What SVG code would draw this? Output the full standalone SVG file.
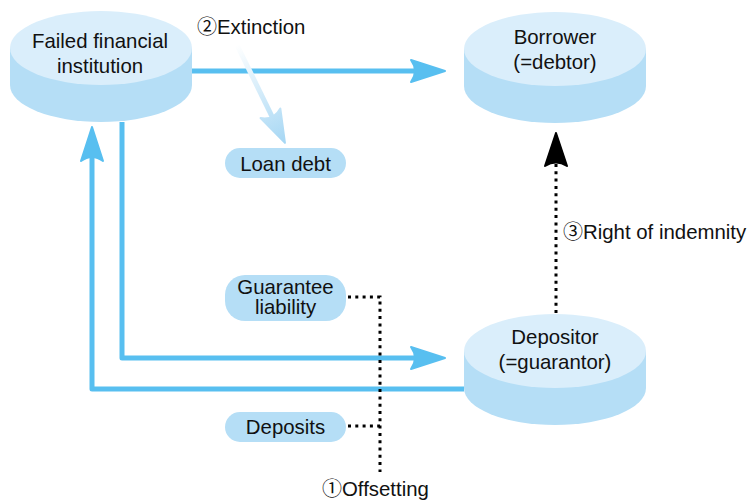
<svg xmlns="http://www.w3.org/2000/svg" width="753" height="503" viewBox="0 0 753 503">
<defs>
<style>
text{font-family:"Liberation Sans",Arial,"Noto Sans CJK JP",sans-serif;font-size:20.4px;fill:#111}
.c{text-anchor:middle}
.num{font-family:"Noto Sans CJK JP",sans-serif;font-size:20px}
.top{fill:#daeefb}
.side{fill:#b5def6}
.pill{fill:#b5def6}
.blue{fill:none;stroke:#58bff0;stroke-width:5;stroke-linejoin:round}
.dot{fill:none;stroke:#000;stroke-width:3;stroke-dasharray:3 4.3}
</style>
<marker id="ab" markerUnits="userSpaceOnUse" orient="auto" refX="0" refY="0" markerWidth="60" markerHeight="40" viewBox="-20 -20 60 40" overflow="visible">
<path d="M20,0 L-14,-11 Q-6,0 -14,11 Z" fill="#58bff0" stroke="#58bff0" stroke-width="2" stroke-linejoin="round"/>
</marker>
<marker id="ak" markerUnits="userSpaceOnUse" orient="auto" refX="0" refY="0" markerWidth="60" markerHeight="40" viewBox="-20 -20 60 40" overflow="visible">
<path d="M20,0 L-13,-11 Q-6,0 -13,11 Z" fill="#000" stroke="#000" stroke-width="2" stroke-linejoin="round"/>
</marker>
<linearGradient id="gx" gradientUnits="userSpaceOnUse" x1="0" y1="0" x2="109" y2="0">
<stop offset="0" stop-color="#ffffff"/>
<stop offset="1" stop-color="#a6d7f4"/>
</linearGradient>
</defs>
<rect width="753" height="503" fill="#fff"/>

<g id="connectors">
<path class="blue" d="M192,71 H425" marker-end="url(#ab)"/>
<path class="blue" d="M122,122 V358 H425" marker-end="url(#ab)"/>
<path class="blue" d="M464,389 H92 V147" marker-end="url(#ab)"/>
<path class="dot" d="M556,313 V153" marker-end="url(#ak)"/>
<path class="dot" d="M348,297 H380 V472"/>
<path class="dot" d="M348,426 H380"/>
<g transform="translate(237,45) rotate(63.9)">
<path d="M0,0 H85" stroke="url(#gx)" stroke-width="5" fill="none"/>
<path d="M109,0 L76,-11 Q84,0 76,11 Z" fill="url(#gx)" stroke="url(#gx)" stroke-width="2" stroke-linejoin="round"/>
</g>
</g>

<g id="failed">
<path class="side" d="M10,48 V85 A91,37 0 0 0 192,85 V48 Z"/>
<ellipse class="top" cx="101" cy="48" rx="91" ry="37"/>
<text class="c" x="100" y="48">Failed financial</text>
<text class="c" x="100" y="73">institution</text>
</g>

<g id="borrower">
<path class="side" d="M464,49 V86 A91,37 0 0 0 646,86 V49 Z"/>
<ellipse class="top" cx="555" cy="49" rx="91" ry="37"/>
<text class="c" x="555" y="44">Borrower</text>
<text class="c" x="555" y="69">(=debtor)</text>
</g>

<g id="depositor">
<path class="side" d="M464,351 V388 A91,37 0 0 0 646,388 V351 Z"/>
<ellipse class="top" cx="555" cy="351" rx="91" ry="37"/>
<text class="c" x="555" y="344">Depositor</text>
<text class="c" x="555" y="369">(=guarantor)</text>
</g>

<g id="loan-debt">
<rect class="pill" x="225" y="148" width="121" height="30" rx="15"/>
<text class="c" x="285.5" y="171">Loan debt</text>
</g>

<g id="guarantee">
<rect class="pill" x="225" y="275" width="121" height="46" rx="20"/>
<text class="c" x="285.5" y="294">Guarantee</text>
<text class="c" x="285.5" y="314">liability</text>
</g>

<g id="deposits">
<rect class="pill" x="225" y="412" width="121" height="30" rx="15"/>
<text class="c" x="285.5" y="434">Deposits</text>
</g>

<g id="labels">
<text x="197" y="34"><tspan class="num">②</tspan>Extinction</text>
<text x="563" y="239"><tspan class="num">③</tspan>Right of indemnity</text>
<text x="322" y="496"><tspan class="num">①</tspan>Offsetting</text>
</g>
</svg>
